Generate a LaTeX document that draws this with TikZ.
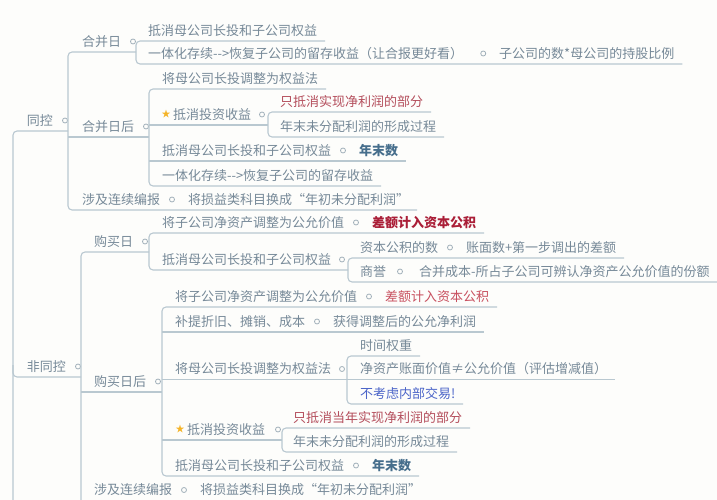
\documentclass[tikz,border=0pt]{standalone}
\usepackage{fontspec}
\setmainfont{Noto Sans CJK SC}
\definecolor{bgc}{RGB}{253,253,251}
\definecolor{txtc}{RGB}{118,137,152}
\definecolor{linec}{RGB}{185,200,208}
\definecolor{dotc}{RGB}{160,175,185}
\definecolor{redA}{RGB}{180,78,92}
\definecolor{redB}{RGB}{170,30,55}
\definecolor{redC}{RGB}{200,80,95}
\definecolor{blueB}{RGB}{70,110,140}
\definecolor{blueC}{RGB}{75,100,200}
\definecolor{starc}{RGB}{245,180,40}
\tikzset{
  txt/.style={anchor=west, inner sep=0pt, outer sep=0pt, text=txtc, font=\fontsize{13}{13}\selectfont, text height=11.4pt, text depth=1.6pt},
  lead/.style={yshift=10.5pt},
  redtxt/.style={txt, text=redA},
  redbold/.style={txt, text=redB, font=\fontsize{13}{13}\selectfont\bfseries},
  redlight/.style={txt, text=redC},
  bluebold/.style={txt, text=blueB, font=\fontsize{13}{13}\selectfont\bfseries},
  bluetxt/.style={txt, text=blueC},
  dotn/.style={circle, draw=dotc, line width=0.8pt, minimum size=5pt, inner sep=0pt, fill=bgc},
  starn/.style={anchor=center, inner sep=0pt, text=starc, font=\fontsize{9}{9}\selectfont},
  ln/.style={draw=linec, line width=1.1pt},
  br/.style={ln, rounded corners=4pt},
}
\begin{document}
\begin{tikzpicture}[x=1pt,y=-1pt]
\fill[bgc] (0,0) rectangle (717,500);
\useasboundingbox (0,0) rectangle (717,500);

% ---------- root level
\node[txt,lead] (tk) at (27,131) {同控};
\node[dotn] (tkd) at ([xshift=12pt]tk.east) {};
\node[txt,lead] (ftk) at (27,377) {非同控};
\node[dotn] (ftkd) at ([xshift=12pt]ftk.east) {};

% ---------- same control
\node[txt,lead] (hbr) at (82,52) {合并日};
\node[dotn] (hbrd) at ([xshift=12pt]hbr.east) {};
\node[txt,lead] (hbh) at (82,137) {合并日后};
\node[dotn] (hbhd) at ([xshift=12pt]hbh.east) {};
\node[txt,lead] (lx1) at (82,210) {涉及连续编报};
\node[dotn] (lx1d) at ([xshift=12pt]lx1.east) {};
\node[txt] (lx1c) at ([xshift=16pt]lx1d.center) {将损益类科目换成“年初未分配利润”};

\node[txt,lead] (a1) at (148,41) {抵消母公司长投和子公司权益};
\node[txt,lead] (a2) at (148,64) {一体化存续{-}{-}>恢复子公司的留存收益（让合报更好看）};
\node[dotn] (a2d) at ([xshift=20pt]a2.east) {};
\node[txt] (a2c) at ([xshift=16pt]a2d.center) {子公司的数*母公司的持股比例};

\node[txt,lead] (b1) at (162,89) {将母公司长投调整为权益法};
\node[txt,lead] (b2) at (173,125) {抵消投资收益};
\node[starn] (b2s) at ([xshift=-7pt]b2.west) {★};
\node[dotn] (b2d) at ([xshift=11pt]b2.east) {};
\node[redtxt,lead] (b21) at (280,112) {只抵消实现净利润的部分};
\node[txt,lead] (b22) at (280,137) {年末未分配利润的形成过程};
\node[txt,lead] (b3) at (162,161) {抵消母公司长投和子公司权益};
\node[dotn] (b3d) at ([xshift=12pt]b3.east) {};
\node[bluebold] (b3c) at ([xshift=16pt]b3d.center) {年末数};
\node[txt,lead] (b4) at (162,186) {一体化存续{-}{-}>恢复子公司的留存收益};

% ---------- non-same control
\node[txt,lead] (gmr) at (94,252) {购买日};
\node[dotn] (gmrd) at ([xshift=12pt]gmr.east) {};
\node[txt,lead] (gmh) at (94,392) {购买日后};
\node[dotn] (gmhd) at ([xshift=12pt]gmh.east) {};
\node[txt,lead] (lx2) at (94,500.5) {涉及连续编报};
\node[dotn] (lx2d) at ([xshift=12pt]lx2.east) {};
\node[txt] (lx2c) at ([xshift=16pt]lx2d.center) {将损益类科目换成“年初未分配利润”};

\node[txt,lead] (c1) at (162,233) {将子公司净资产调整为公允价值};
\node[dotn] (c1d) at ([xshift=12pt]c1.east) {};
\node[redbold] (c1c) at ([xshift=16pt]c1d.center) {差额计入资本公积};
\node[txt,lead] (c2) at (162,270) {抵消母公司长投和子公司权益};
\node[dotn] (c2d) at ([xshift=11pt]c2.east) {};
\node[txt,lead] (c21) at (360,258) {资本公积的数};
\node[dotn] (c21d) at ([xshift=12pt]c21.east) {};
\node[txt] (c21c) at ([xshift=16pt]c21d.center) {账面数+第一步调出的差额};
\node[txt,lead] (c22) at (360,282) {商誉};
\node[dotn] (c22d) at ([xshift=14pt]c22.east) {};
\node[txt] (c22c) at ([xshift=19pt]c22d.center) {合并成本-所占子公司可辨认净资产公允价值的份额};

\node[txt,lead] (d1) at (175,307) {将子公司净资产调整为公允价值};
\node[dotn] (d1d) at ([xshift=12pt]d1.east) {};
\node[redlight] (d1c) at ([xshift=16pt]d1d.center) {差额计入资本公积};
\node[txt,lead] (d2) at (175,332) {补提折旧、摊销、成本};
\node[dotn] (d2d) at ([xshift=12pt]d2.east) {};
\node[txt] (d2c) at ([xshift=16pt]d2d.center) {获得调整后的公允净利润};
\node[txt,lead] (d3) at (175,379.5) {将母公司长投调整为权益法};
\node[dotn] (d3d) at ([xshift=11pt]d3.east) {};
\node[txt,lead] (d31) at (360,356) {时间权重};
\node[txt,lead] (d32) at (360,379.5) {净资产账面价值≠公允价值（评估增减值）};
\node[bluetxt,lead] (d33) at (360,404) {不考虑内部交易!};
\node[txt,lead] (d4) at (187,440) {抵消投资收益};
\node[starn] (d4s) at ([xshift=-7pt]d4.west) {★};
\node[dotn] (d4d) at ([xshift=13pt]d4.east) {};
\node[redtxt,lead] (d41) at (293,428) {只抵消当年实现净利润的部分};
\node[txt,lead] (d42) at (293,452) {年末未分配利润的形成过程};
\node[txt,lead] (d5) at (175,476) {抵消母公司长投和子公司权益};
\node[dotn] (d5d) at ([xshift=12pt]d5.east) {};
\node[bluebold] (d5c) at ([xshift=16pt]d5d.center) {年末数};

% ---------- connectors (underlines and brackets)
% root
\draw[br] (68,131) -- (13,131) -- (13,510);
\draw[br] (13,365) -- (13,377) -- (81,377);
% same control
\draw[br] (136,52) -- (68,52) -- (68,210) -- ([xshift=8pt,yshift=-10.5pt]lx1c.east);
\draw[ln] (68,137) -- (149,137);
\draw[br] ([xshift=8pt,yshift=-10.5pt]a1.east) -- (136,41) -- (136,64) -- ([xshift=8pt,yshift=-10.5pt]a2c.east);
\draw[br] ([xshift=8pt,yshift=-10.5pt]b1.east) -- (149,89) -- (149,186) -- ([xshift=8pt,yshift=-10.5pt]b4.east);
\draw[ln] (149,125) -- (268,125);
\draw[ln] (149,161) -- ([xshift=8pt,yshift=-10.5pt]b3c.east);
\draw[br] ([xshift=8pt,yshift=-10.5pt]b21.east) -- (268,112) -- (268,137) -- ([xshift=8pt,yshift=-10.5pt]b22.east);
% non-same control
\draw[br] (149,252) -- (81,252) -- (81,510);
\draw[ln] (81,392) -- (162,392);
\draw[br] ([xshift=8pt,yshift=-10.5pt]c1c.east) -- (149,233) -- (149,270) -- (348,270);
\draw[br] ([xshift=8pt,yshift=-10.5pt]c21c.east) -- (348,258) -- (348,282) -- ([xshift=8pt,yshift=-10.5pt]c22c.east);
\draw[br] ([xshift=8pt,yshift=-10.5pt]d1c.east) -- (162,307) -- (162,476) -- ([xshift=8pt,yshift=-10.5pt]d5c.east);
\draw[ln] (162,332) -- ([xshift=8pt,yshift=-10.5pt]d2c.east);
\draw[ln] (162,379.5) -- (347,379.5);
\draw[ln] (162,440) -- (282,440);
\draw[br] ([xshift=8pt,yshift=-10.5pt]d31.east) -- (347,356) -- (347,404) -- ([xshift=8pt,yshift=-10.5pt]d33.east);
\draw[ln] (347,379.5) -- ([xshift=8pt,yshift=-10.5pt]d32.east);
\draw[br] ([xshift=8pt,yshift=-10.5pt]d41.east) -- (282,428) -- (282,452) -- ([xshift=8pt,yshift=-10.5pt]d42.east);
\end{tikzpicture}
\end{document}
